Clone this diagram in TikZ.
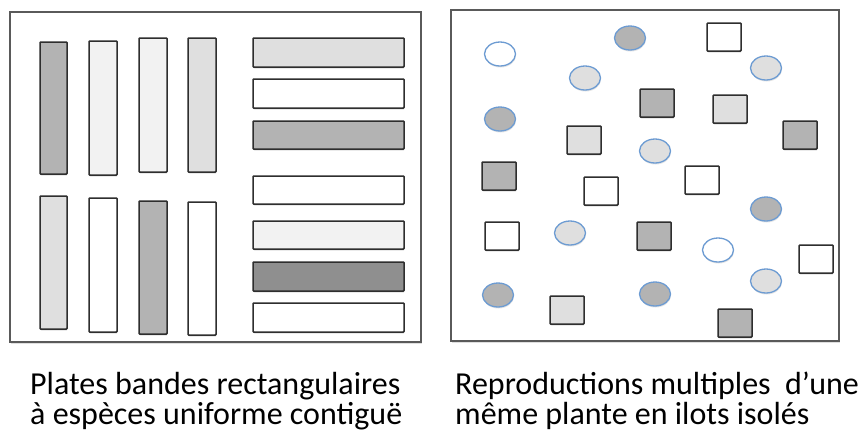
\documentclass[tikz,border=0pt]{standalone}
\usepackage{fontspec}
\setmainfont{Carlito}
\usepackage{xcolor}
\usepackage{tikz}
\usetikzlibrary{shadows}
\definecolor{framegray}{HTML}{5A5A5A}
\definecolor{bedline}{HTML}{2E2E2E}
\definecolor{isletblue}{HTML}{6C9BD2}
\definecolor{graypale}{HTML}{F2F2F2}
\definecolor{graylight}{HTML}{DFDFDF}
\definecolor{graymid}{HTML}{B3B3B3}
\definecolor{graydark}{HTML}{8F8F8F}

\begin{document}
\begin{tikzpicture}[x=1pt,y=-1pt,
    frame/.style={draw=framegray,line width=1.6pt,fill=white,
      drop shadow={opacity=0.25,shadow xshift=0.5pt,shadow yshift=-1.5pt}},
    bed/.style={draw=bedline,line width=1.5pt,rounded corners=0.8pt,
      drop shadow={opacity=0.25,shadow xshift=0.5pt,shadow yshift=-1.5pt}},
    islet/.style={draw=isletblue,line width=1.3pt,
      drop shadow={opacity=0.2,shadow xshift=0.5pt,shadow yshift=-1.5pt}},
    caption/.style={inner sep=0pt,align=left,anchor=north west,
      font=\fontsize{32}{30}\selectfont}]
    \useasboundingbox (0,0) rectangle (860,432);
    % left panel: rectangular beds
    \draw[frame] (10,12) rectangle (421,342);
    \foreach \xa/\ya/\xb/\yb/\col in {40/42/67/174/graymid, 89/41/117/175/graypale,
        139/38/167/172/graypale, 188/38/216/172/graylight,
        40/196/67/329/graylight, 89/198/117/332/white,
        139/201/167/334/graymid, 188/202/216/335/white}
      \draw[bed,fill=\col] (\xa,\ya) rectangle (\xb,\yb);
    \foreach \ya/\yb/\col in {38/67/graylight, 79/108/white, 121/149/graymid,
        176/204/white, 221/249/graypale, 262/291/graydark, 303/332/white}
      \draw[bed,fill=\col] (253,\ya) rectangle (404,\yb);
    % right panel: isolated islets
    \draw[frame] (451,10) rectangle (839,341);
    \foreach \cx/\cy/\col in {500/54/white, 630/38/graymid, 585/78/graylight,
        766/68/graylight, 500/119/graymid, 655/151/graylight, 766/209/graymid,
        570/233/graylight, 718/250/white, 766/281/graylight, 498/295/graymid,
        655/294/graymid}
      \draw[islet,fill=\col] (\cx,\cy) ellipse [x radius=15.5pt,y radius=12pt];
    \foreach \xa/\ya/\col in {707/23/white, 640/89/graymid, 713/95/graylight,
        783/121/graymid, 567/126/graylight, 482/162/graymid, 584/177/white,
        685/166/white, 485/222/white, 637/222/graymid, 799/245/white,
        550/296/graylight, 718/309/graymid}
      \draw[bed,fill=\col] (\xa,\ya) rectangle ++(34,28);
    % captions
    \node[caption] (bedcap) at (30,372)
      {Plates bandes rectangulaires\\à espèces uniforme contiguë};
    \node[caption] (isletcap) at (455,372)
      {Reproductions multiples\ \ d’une\\même plante en ilots isolés};
\end{tikzpicture}
\end{document}
